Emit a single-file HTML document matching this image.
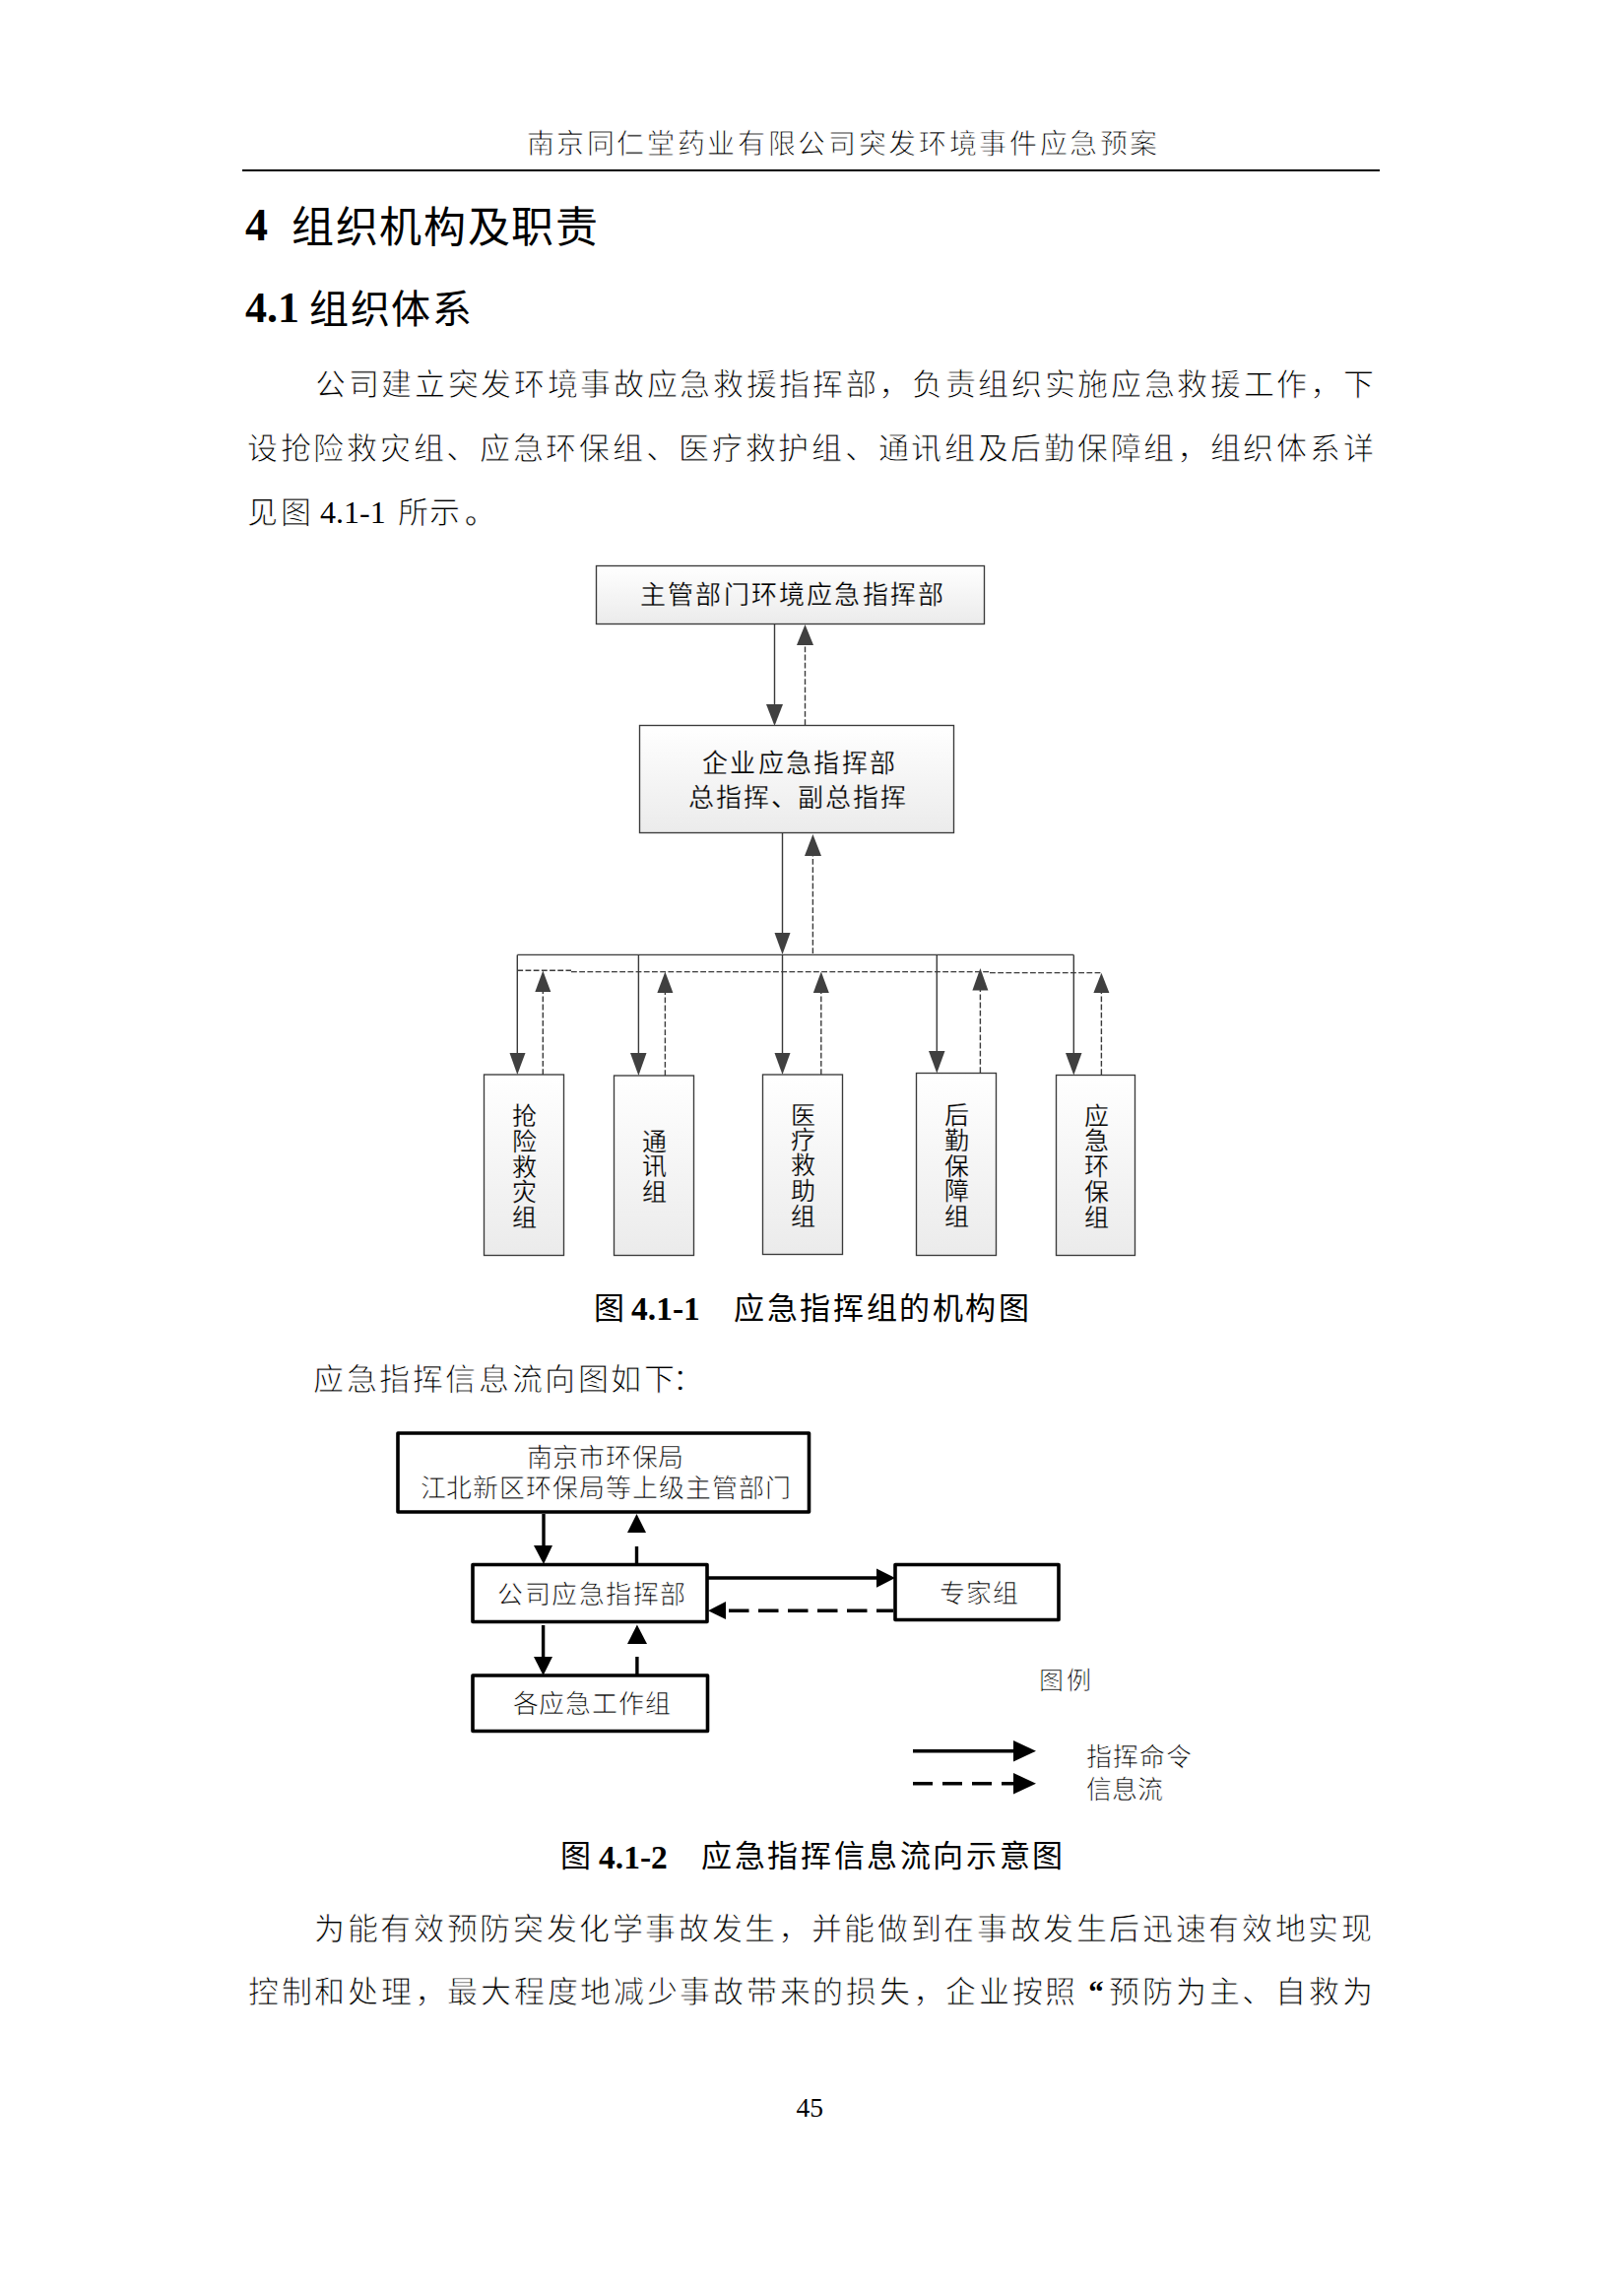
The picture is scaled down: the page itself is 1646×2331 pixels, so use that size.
<!DOCTYPE html>
<html lang="zh-CN"><head><meta charset="utf-8">
<style>
html,body{margin:0;padding:0;background:#fff;}
body{width:1646px;height:2331px;position:relative;overflow:hidden;font-family:"Liberation Serif",serif;color:#000;}
.t{position:absolute;white-space:nowrap;line-height:1;}
.hdr{left:534.5px;top:133px;font-size:28px;letter-spacing:2.65px;color:#000;-webkit-text-stroke:0.8px #fff;}
.rule{position:absolute;left:246px;top:172px;width:1155px;height:2px;background:#000;}
.h1{font-size:43px;font-weight:bold;}
.h2{font-size:40px;font-weight:bold;}
.p{font-size:31px;letter-spacing:2.5px;color:#000;-webkit-text-stroke:0.8px #fff;}
.cap{font-size:31px;font-weight:normal;}
.dg{font-size:26px;color:#000;-webkit-text-stroke:0.25px #fff;}
.dg2{-webkit-text-stroke:0.7px #fff;}
.v{position:absolute;font-size:25px;line-height:25.8px;width:30px;text-align:center;white-space:normal;word-break:break-all;color:#000;-webkit-text-stroke:0.25px #fff;}
.j{position:absolute;white-space:nowrap;line-height:1;text-align:justify;text-align-last:justify;text-justify:inter-character;}
.num{font-size:32px;letter-spacing:0;-webkit-text-stroke:0;}
.capn{font-size:33.5px;font-weight:bold;}
.q{display:inline-block;width:31px;text-align:left;text-align-last:left;padding-left:10px;box-sizing:border-box;-webkit-text-stroke:0;font-weight:bold;}
svg{position:absolute;left:0;top:0;}
</style></head>
<body>
<div class="t hdr">南京同仁堂药业有限公司突发环境事件应急预案</div>
<div class="rule"></div>
<div class="t h1" style="left:249px;top:206px;font-size:46px;">4</div>
<div class="t h1" style="left:296px;top:210px;letter-spacing:1.7px;font-weight:normal;">组织机构及职责</div>
<div class="t h2" style="left:249px;top:291px;font-size:44px;">4.1</div>
<div class="t h2" style="left:314px;top:295px;letter-spacing:1.5px;font-weight:normal;">组织体系</div>

<div class="j p" style="left:320px;top:375px;width:1077px;">公司建立突发环境事故应急救援指挥部，负责组织实施应急救援工作，下</div>
<div class="j p" style="left:251px;top:439.5px;width:1146px;">设抢险救灾组、应急环保组、医疗救护组、通讯组及后勤保障组，组织体系详</div>
<div class="t p" style="left:251px;top:504px;">见图<span class="num" style="margin-left:7px;">4.1-1</span><span style="margin-left:12.5px;letter-spacing:1.3px;">所示<span style="margin-left:3px;-webkit-text-stroke:0.3px #fff">。</span></span></div>

<svg width="1646" height="2331" viewBox="0 0 1646 2331">
<defs>
<linearGradient id="g" x1="0" y1="0" x2="0" y2="1">
<stop offset="0" stop-color="#ffffff"/><stop offset="1" stop-color="#ebebeb"/>
</linearGradient>
</defs>
<g stroke="#3a3a3a" stroke-width="1.35" fill="url(#g)">
<rect x="605.5" y="574.5" width="394" height="59"/>
<rect x="649.5" y="736.5" width="319" height="109"/>
<rect x="491.5" y="1091" width="81" height="183.5"/>
<rect x="623.5" y="1092" width="81" height="182.5"/>
<rect x="774.5" y="1091" width="81" height="182.5"/>
<rect x="930.5" y="1089.5" width="81" height="185"/>
<rect x="1072.5" y="1091.5" width="80" height="183"/>
</g>
<g stroke="#3a3a3a" stroke-width="1.4" fill="none">
<path d="M786.5 633.5 V718"/>
<path d="M794.5 845.5 V950"/>
<path d="M525.3 969.4 H1090.3"/>
<path d="M525.3 969.4 V1072 M648.4 969.4 V1072 M794.5 969.4 V1072 M951.3 969.4 V1072 M1090.3 969.4 V1072"/>
</g>
<g stroke="#3a3a3a" stroke-width="1.4" fill="none" stroke-dasharray="5.8 2.4">
<path d="M817.5 736 V650"/>
<path d="M825.4 968 V866"/>
<path d="M525.3 985.2 H580 M580 986.6 H1005 M1005 987.6 H1118.4"/>
<path d="M551.3 1091 V1005 M675.4 1092 V1005 M833.8 1091 V1005 M995.4 1089 V1005 M1118.4 1091 V1005"/>
</g>
<g fill="#404040">
<path d="M778 715 L795 715 L786.5 737 Z"/>
<path d="M809 655 L826 655 L817.5 634 Z"/>
<path d="M786.5 947 L802.5 947 L794.5 969 Z"/>
<path d="M817 869 L834 869 L825.4 847 Z"/>
<path d="M517.5 1069 L533.5 1069 L525.3 1091 Z"/>
<path d="M640 1069 L656.5 1069 L648.4 1092 Z"/>
<path d="M786.5 1069 L802.5 1069 L794.5 1091 Z"/>
<path d="M943 1067 L959.5 1067 L951.3 1089.5 Z"/>
<path d="M1082 1069 L1098.5 1069 L1090.3 1091.5 Z"/>
<path d="M543.3 1007 L559.3 1007 L551.3 985.5 Z"/>
<path d="M667.4 1008 L683.4 1008 L675.4 986.5 Z"/>
<path d="M825.8 1008 L841.8 1008 L833.8 986.5 Z"/>
<path d="M987.4 1005.5 L1003.4 1005.5 L995.4 983 Z"/>
<path d="M1110.4 1008 L1126.4 1008 L1118.4 987.7 Z"/>
</g>
</svg>

<div class="t dg" style="left:650px;top:591.5px;letter-spacing:2.2px;">主管部门环境应急指挥部</div>
<div class="t dg" style="left:713px;top:763px;letter-spacing:2.33px;">企业应急指挥部</div>
<div class="t dg" style="left:699px;top:797.5px;letter-spacing:1.86px;">总指挥、副总指挥</div>
<div class="v" style="left:517px;top:1121px;">抢险救灾组</div>
<div class="v" style="left:649px;top:1146.5px;">通讯组</div>
<div class="v" style="left:800px;top:1119.5px;">医疗救助组</div>
<div class="v" style="left:956px;top:1120px;">后勤保障组</div>
<div class="v" style="left:1098px;top:1120.5px;">应急环保组</div>

<div class="t cap" style="left:603px;top:1312.5px;">图</div><div class="t capn" style="left:641px;top:1312px;">4.1-1</div><div class="t cap" style="left:745px;top:1312.5px;letter-spacing:2.64px;">应急指挥组的机构图</div>
<div class="t p" style="left:318px;top:1384.5px;letter-spacing:2.6px;">应急指挥信息流向图如下<span style="margin-left:-5px">：</span></div>


<svg width="1646" height="2331" viewBox="0 0 1646 2331">
<g stroke="#000" stroke-width="3.6" fill="none" stroke-linejoin="round">
<rect x="404" y="1455" width="417.5" height="80"/>
<rect x="480" y="1588.5" width="238" height="58"/>
<rect x="909" y="1588.5" width="166" height="56"/>
<rect x="480" y="1701" width="238.5" height="56.5"/>
</g>
<g stroke="#000" stroke-width="3.4" fill="none">
<path d="M552 1537 V1572"/>
<path d="M719 1602 H893"/>
<path d="M551.6 1650 V1685"/>
<path d="M927 1777.7 H1032"/>
</g>
<g stroke="#000" stroke-width="3.4" fill="none" stroke-dasharray="20.5 9.5">
<path d="M646.5 1587 V1554" stroke-dasharray="17 14"/>
<path d="M907 1635.3 H736" stroke-dashoffset="3.5"/>
<path d="M646.9 1700 V1667" stroke-dasharray="18 13"/>
<path d="M927 1810.7 H1032" stroke-dasharray="20 10"/>
</g>
<g fill="#000">
<path d="M542 1569 L561 1569 L552 1588 Z"/>
<path d="M637 1556 L656 1556 L646.5 1537 Z"/>
<path d="M890 1592.5 L909 1602 L890 1611.7 Z"/>
<path d="M737 1626 L719 1635.3 L737 1644 Z"/>
<path d="M542 1682 L561 1682 L551.6 1701 Z"/>
<path d="M637 1669 L657 1669 L646.9 1649.5 Z"/>
<path d="M1029 1767 L1052 1777.7 L1029 1788.6 Z"/>
<path d="M1029 1800 L1052 1810.7 L1029 1821.5 Z"/>
</g>
</svg>
<div class="t dg dg2" style="left:534.6px;top:1467.5px;letter-spacing:0.74px;">南京市环保局</div>
<div class="t dg dg2" style="left:426.5px;top:1499px;letter-spacing:0.94px;">江北新区环保局等上级主管部门</div>
<div class="t dg dg2" style="left:505px;top:1607px;letter-spacing:1.5px;">公司应急指挥部</div>
<div class="t dg dg2" style="left:954px;top:1606px;letter-spacing:1px;">专家组</div>
<div class="t dg dg2" style="left:520.5px;top:1718px;letter-spacing:0.84px;">各应急工作组</div>
<div class="t dg dg2" style="left:1055px;top:1694px;font-size:25px;letter-spacing:3.4px;">图例</div>
<div class="t dg dg2" style="left:1102.5px;top:1772px;letter-spacing:1px;">指挥命令</div>
<div class="t dg dg2" style="left:1102.5px;top:1804.5px;">信息流</div>

<div class="t cap" style="left:569px;top:1869px;">图</div><div class="t capn" style="left:608px;top:1868.5px;">4.1-2</div><div class="t cap" style="left:712px;top:1869px;letter-spacing:2.64px;">应急指挥信息流向示意图</div>
<div class="j p" style="left:319px;top:1942.5px;width:1076.5px;">为能有效预防突发化学事故发生，并能做到在事故发生后迅速有效地实现</div>
<div class="j p" style="left:252px;top:2006.5px;width:1144px;">控制和处理，最大程度地减少事故带来的损失，企业按照<span class="q">“</span>预防为主、自救为</div>
<div class="t" style="left:808.5px;top:2126px;font-size:27.5px;">45</div>
</body></html>
